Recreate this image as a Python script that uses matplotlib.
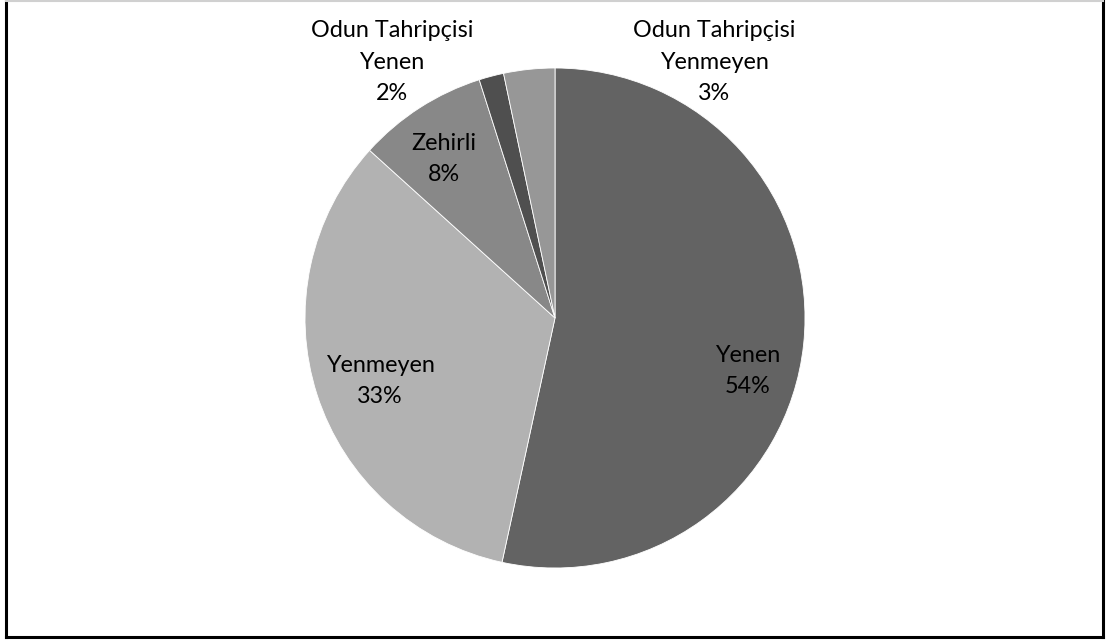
import matplotlib
matplotlib.use("Agg")
import matplotlib.pyplot as plt
from matplotlib.lines import Line2D
import numpy as np

categories = ["Yenen", "Yenmeyen", "Zehirli", "Odun Tahripçisi\nYenen", "Odun Tahripçisi\nYenmeyen"]
values = [53.4, 33.3, 8.4, 1.6, 3.3]
pct_labels = ["54%", "33%", "8%", "2%", "3%"]
colors = ["#636363", "#b2b2b2", "#888888", "#4f4f4f", "#979797"]

W, H = 1112, 644
fig = plt.figure(figsize=(W / 100, H / 100), dpi=100)
ax = fig.add_axes([0, 0, 1, 1])
ax.set_xlim(0, W)
ax.set_ylim(0, H)
ax.set_aspect("equal")
ax.axis("off")

cx, cy, r = 555, H - 318, 250
ax.pie(values, colors=colors, startangle=90, counterclock=False,
       center=(cx, cy), radius=r, frame=True,
       wedgeprops=dict(linewidth=0.6, edgecolor="white"))
ax.set_xlim(0, W)
ax.set_ylim(0, H)
ax.axis("off")

font = dict(family="Lato", fontsize=16.8, color="black", ha="center", va="center",
            linespacing=1.62)
label_pos = [(748, 371), (380, 381), (444, 159), (392, 62), (714, 62)]
for cat, p, (x, y) in zip(categories, pct_labels, label_pos):
    ax.text(x, H - y, f"{cat}\n{p}", **font)

# frame
ax.add_line(Line2D([6, 6], [H - 637, H], color="black", lw=2.2))
ax.add_line(Line2D([1103, 1103], [H - 637, H], color="black", lw=2.2))
ax.add_line(Line2D([6, 1103], [H - 637, H - 637], color="black", lw=2.2))
ax.add_line(Line2D([6, 1103], [H - 0.5, H - 0.5], color="#d0d0d0", lw=1.5))

fig.savefig("out.png", dpi=100)
